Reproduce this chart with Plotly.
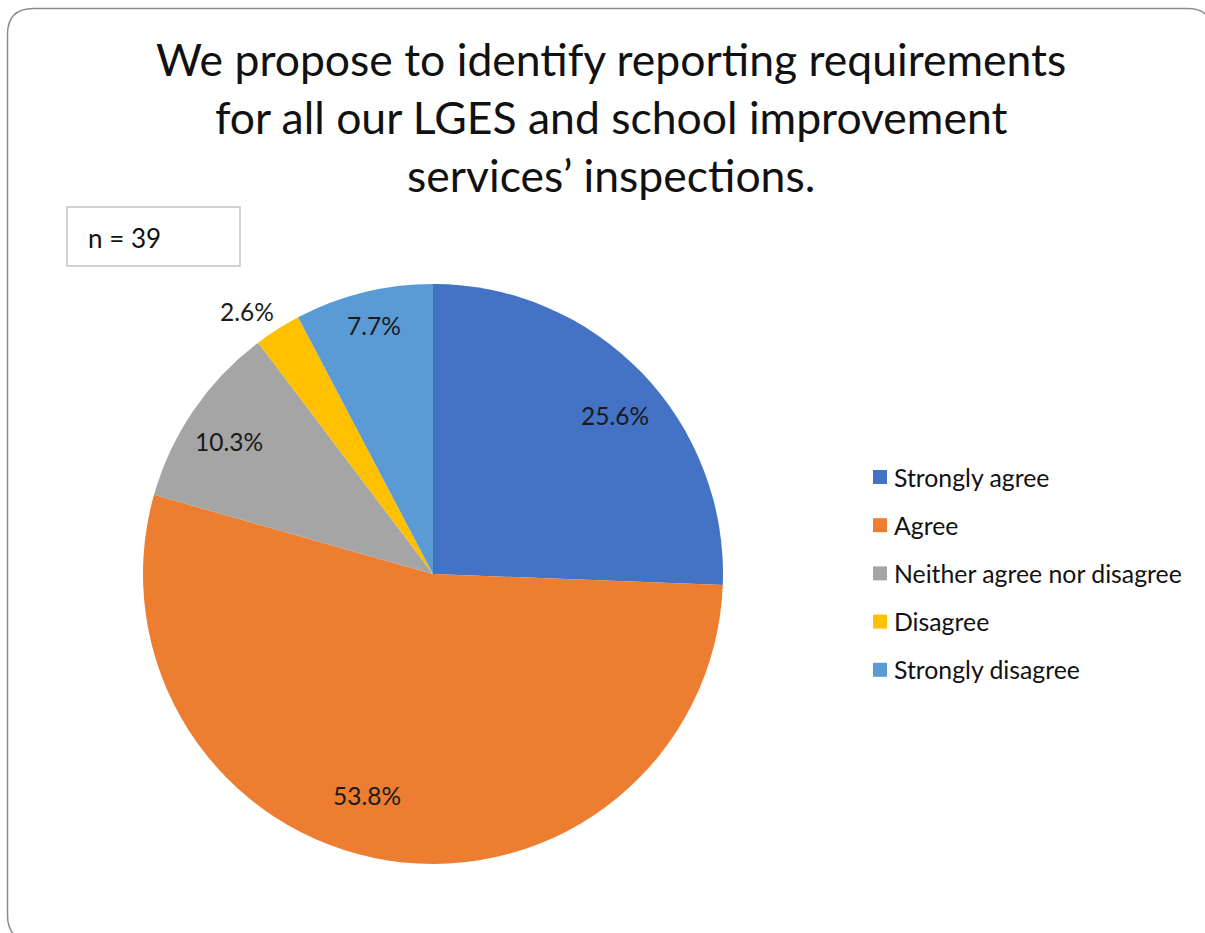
import math
import plotly.graph_objects as go

# Survey responses (percent of respondents, n = 39)
categories = ["Strongly agree", "Agree", "Neither agree nor disagree", "Disagree", "Strongly disagree"]
percentages = [25.6, 53.8, 10.3, 2.6, 7.7]
respondents = 39

title_lines = [
    "We propose to identify reporting requirements",
    "for all our LGES and school improvement",
    "services\u2019 inspections.",
]

# Styling
colors = ["#4472C4", "#ED7D31", "#A5A5A5", "#FFC000", "#5B9BD5"]
label_radius = [0.831, 0.797, 0.839, 1.108, 0.881]   # label distance as fraction of pie radius
label_turn = [2.8, 7.7, -1.5, -2.9, 0.4]              # degrees away from the slice mid-angle
FONT = "Lato, 'Open Sans', sans-serif"

W, H = 1205, 933
CX, CY, R = 433, 574, 290          # pie centre and radius in pixels


def px(x):
    return x / W


def py(y):
    return 1 - y / H


fig = go.Figure(
    go.Pie(
        labels=categories,
        values=percentages,
        marker=dict(colors=colors, line=dict(width=0)),
        sort=False,
        direction="clockwise",
        rotation=0,
        textinfo="none",
        hoverinfo="label+percent",
        showlegend=False,
        domain=dict(x=[px(CX - R), px(CX + R)], y=[py(CY + R), py(CY - R)]),
    )
)

annotations = []
shapes = []

# Data labels placed around each slice's mid-angle
total = sum(percentages)
cum = 0.0
for val, k, turn in zip(percentages, label_radius, label_turn):
    mid = (cum + val / 2) / total * 2 * math.pi + math.radians(turn)
    cum += val
    x = CX + R * k * math.sin(mid)
    y = CY - R * k * math.cos(mid)
    annotations.append(dict(
        x=px(x), y=py(y), xref="paper", yref="paper",
        text=f"{val:.1f}%", showarrow=False,
        font=dict(family=FONT, size=24.5, color="#1a1a1a"),
        xanchor="center", yanchor="middle",
    ))

# Title
annotations.append(dict(
    x=px(611), y=py(30), xref="paper", yref="paper",
    text="<br>".join(title_lines), showarrow=False,
    font=dict(family=FONT, size=44.5, color="#111111"),
    xanchor="center", yanchor="top", align="center",
))

# Sample size box
shapes.append(dict(
    type="rect", xref="paper", yref="paper",
    x0=px(67), x1=px(240), y0=py(266), y1=py(207),
    line=dict(color="#c4c4c4", width=1.5), fillcolor="white",
))
annotations.append(dict(
    x=px(86), y=py(238), xref="paper", yref="paper",
    text=f"n = {respondents}", showarrow=False,
    font=dict(family=FONT, size=26, color="#111111"),
    xanchor="left", yanchor="middle",
))

# Legend
LEG_X, LEG_Y0, LEG_DY, SQ = 873, 477, 48.2, 14
for i, (name, col) in enumerate(zip(categories, colors)):
    yc = LEG_Y0 + i * LEG_DY
    shapes.append(dict(
        type="rect", xref="paper", yref="paper",
        x0=px(LEG_X), x1=px(LEG_X + SQ), y0=py(yc + SQ / 2), y1=py(yc - SQ / 2),
        line=dict(width=0), fillcolor=col,
    ))
    annotations.append(dict(
        x=px(LEG_X + SQ + 5), y=py(yc), xref="paper", yref="paper",
        text=name, showarrow=False,
        font=dict(family=FONT, size=24.8, color="#111111"),
        xanchor="left", yanchor="middle",
    ))

# Rounded outer frame
x0, y0, x1, y1, rr = 7.5, 8.5, 1213, 941, 26
path = (
    f"M {px(x0 + rr)},{py(y0)} L {px(x1 - rr)},{py(y0)} "
    f"Q {px(x1)},{py(y0)} {px(x1)},{py(y0 + rr)} "
    f"L {px(x1)},{py(y1 - rr)} Q {px(x1)},{py(y1)} {px(x1 - rr)},{py(y1)} "
    f"L {px(x0 + rr)},{py(y1)} Q {px(x0)},{py(y1)} {px(x0)},{py(y1 - rr)} "
    f"L {px(x0)},{py(y0 + rr)} Q {px(x0)},{py(y0)} {px(x0 + rr)},{py(y0)} Z"
)
shapes.append(dict(type="path", xref="paper", yref="paper", path=path,
                   line=dict(color="#8c8c8c", width=1.5), layer="below"))

fig.update_layout(
    width=W, height=H,
    margin=dict(l=0, r=0, t=0, b=0),
    paper_bgcolor="white", plot_bgcolor="white",
    annotations=annotations, shapes=shapes,
    showlegend=False,
)

fig.write_html("out.html", config={"displayModeBar": False})
